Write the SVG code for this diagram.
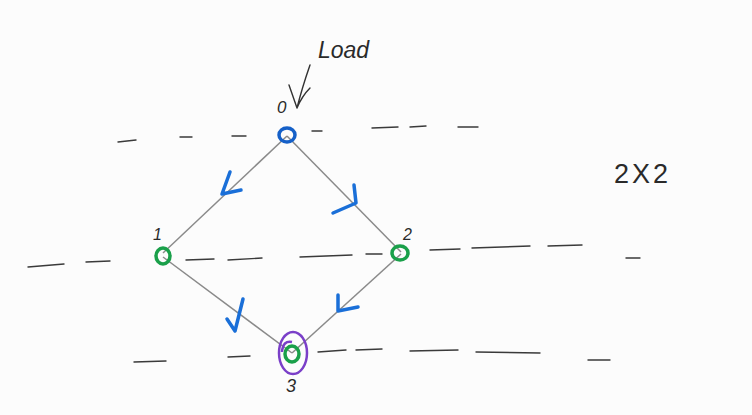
<svg xmlns="http://www.w3.org/2000/svg" width="752" height="415" viewBox="0 0 752 415">
<style>
.bg{fill:#fcfcfc}
.dash{stroke:#3a3a3a;stroke-width:1.4;stroke-linecap:round;fill:none}
.edge{stroke:#8a8a8a;stroke-width:1.5;fill:none}
.tick{stroke:#1a6fd8;stroke-width:3.5;stroke-linecap:round;stroke-linejoin:round;fill:none}
.nb{stroke:#1560c8;stroke-width:3.5;fill:none}
.ng{stroke:#1aa04a;stroke-width:3.5;fill:none}
.np{stroke:#7a3fc8;stroke-width:2.5;fill:none}
.hand{font-family:"Liberation Sans",sans-serif;fill:#2a2a2a;font-style:italic}
.pen{stroke:#333;stroke-width:1.4;fill:none;stroke-linecap:round}
</style>
<rect class="bg" width="752" height="415"/>
<g id="guides">
<path class="dash" d="M118 142 L136 140 M180 137 L192 137 M232 136 L246 136 M312 131 L322 131 M372 128 L398 127 M410 127 L426 126 M458 127 L478 127"/>
<path class="dash" d="M28 267 L64 264 M86 262 L110 261 M186 260 L214 259 M228 260 L262 258 M300 257 L352 255 M366 254 L382 254 M430 250 L460 249 M472 248 L530 246 M548 246 L582 245 M626 258 L640 258"/>
<path class="dash" d="M134 362 L166 361 M228 357 L250 356 M318 352 L346 350 M356 350 L382 349 M410 351 L458 350 M476 352 L540 353 M588 360 L610 360"/>
</g>
<g id="connectors">
<path class="edge" d="M287 136 L163 253"/>
<path class="edge" d="M287 136 L401 252"/>
<path class="edge" d="M163 257 L292 353"/>
<path class="edge" d="M401 254 L292 353"/>
<path class="tick" d="M230 172 L222 194 L241 190"/>
<path class="tick" d="M354 185 L356 203 L333 213"/>
<path class="tick" d="M227 319 L235 331 L243 299"/>
<path class="tick" d="M338 295 L338 311 L358 307"/>
<path class="pen" d="M310 65 Q302 88 297 108 M297 108 L289 85 M297 108 Q302 96 310 88"/>
</g>
<g id="node0">
<ellipse class="nb" cx="287" cy="135" rx="8" ry="7"/>
<text class="hand" x="277" y="113" font-size="17">0</text>
</g>
<g id="load">
<text class="hand" x="318" y="58" font-size="23">Load</text>
</g>
<g id="node1">
<ellipse class="ng" cx="163" cy="256" rx="7" ry="8"/>
<text class="hand" x="153" y="240" font-size="16">1</text>
</g>
<g id="node2">
<ellipse class="ng" cx="400" cy="253" rx="8" ry="7"/>
<text class="hand" x="403" y="240" font-size="16">2</text>
</g>
<g id="node3">
<ellipse class="ng" cx="292" cy="354" rx="7" ry="8"/>
<ellipse class="np" cx="293" cy="353" rx="14" ry="21"/>
<path class="np" d="M282 352 Q283 340 292 342"/>
<text class="hand" x="286" y="392" font-size="18">3</text>
</g>
<g id="label2x2">
<text x="614" y="183" font-size="27" letter-spacing="3" style="font-family:'Liberation Sans',sans-serif;fill:#2a2a2a;font-weight:300">2X2</text>
</g>
</svg>
